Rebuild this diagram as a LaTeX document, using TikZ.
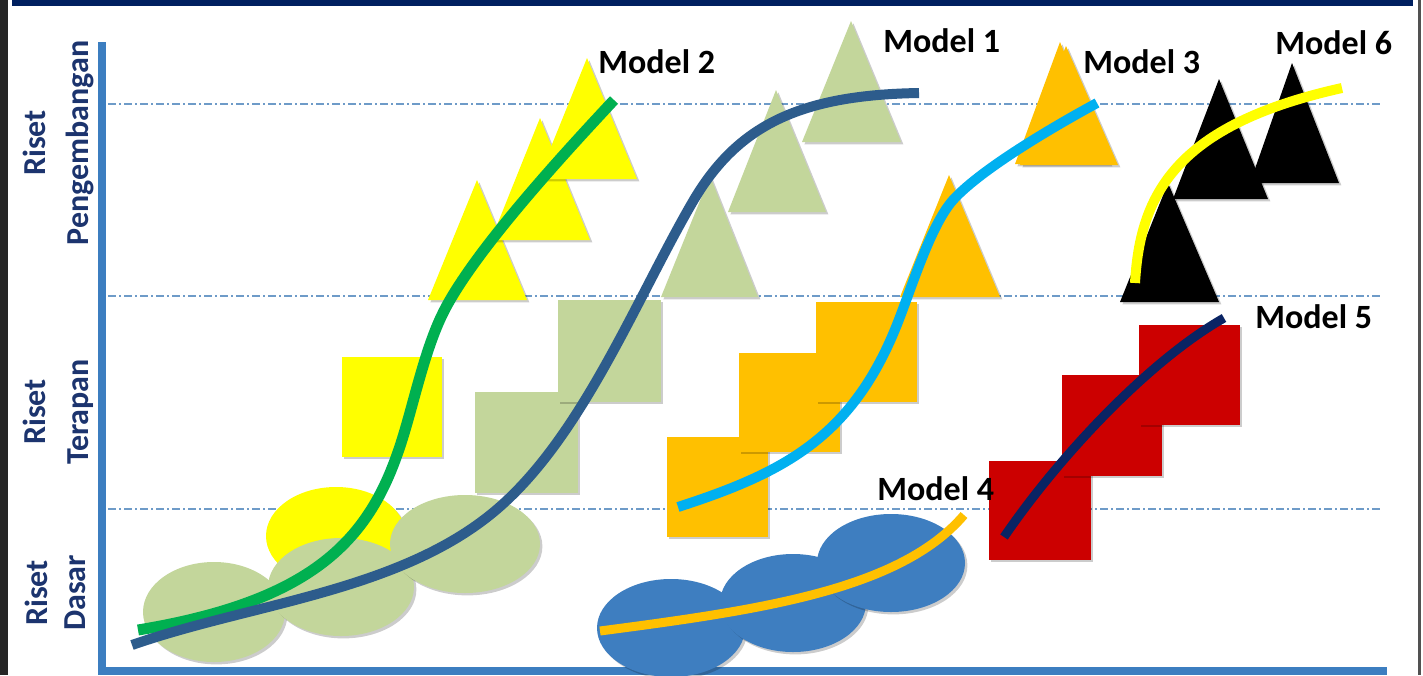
\documentclass[tikz,border=0pt]{standalone}
\usepackage{fontspec}
\setmainfont{Carlito}
\usetikzlibrary{shadows}

\definecolor{framegray}{RGB}{38,38,38}
\definecolor{topnavy}{RGB}{0,32,96}
\definecolor{axisblue}{RGB}{60,126,192}
\definecolor{guideblue}{RGB}{110,155,200}
\definecolor{labelnavy}{RGB}{28,52,110}
\definecolor{sagegreen}{RGB}{195,214,155}
\definecolor{brightyellow}{RGB}{255,255,0}
\definecolor{amber}{RGB}{255,192,0}
\definecolor{deepred}{RGB}{204,0,0}
\definecolor{steelblue}{RGB}{62,126,192}
\definecolor{curveblue}{RGB}{45,92,140}
\definecolor{curvegreen}{RGB}{0,176,80}
\definecolor{curvecyan}{RGB}{0,176,240}
\definecolor{curvenavy}{RGB}{10,36,100}

\newcommand{\modelfont}{\fontsize{17}{20}\selectfont\bfseries}
\newcommand{\levelfont}{\fontsize{16}{19}\selectfont\bfseries}

\begin{document}
\begin{tikzpicture}[
    x=0.5pt, y=-0.5pt,
    shapeshadow/.style={drop shadow={shadow xshift=1.2pt, shadow yshift=-1.2pt, opacity=0.2, fill=black}},
    greenshape/.style={fill=sagegreen, shapeshadow},
    yellowshape/.style={fill=brightyellow, shapeshadow},
    ambershape/.style={fill=amber, shapeshadow},
    redshape/.style={fill=deepred, shapeshadow},
    blackshape/.style={fill=black, shapeshadow},
    blueshape/.style={fill=steelblue, shapeshadow},
    trend/.style={line width=5pt},
    levelline/.style={draw=guideblue, line width=0.6pt, dash pattern=on 4pt off 1.5pt on 1pt off 1.5pt},
    modellabel/.style={font=\modelfont, inner sep=0pt, anchor=base west},
    levellabel/.style={font=\levelfont, text=labelnavy, rotate=90, inner sep=0pt, anchor=base},
]
\useasboundingbox (0,0) rectangle (1423,675);
\fill[white] (0,0) rectangle (1423,675);

% frame
\fill[framegray] (0,0) rectangle (8,675);
\fill[framegray!80] (1418,0) rectangle (1421,675);
\fill[topnavy] (12,0) rectangle (1413,6);

% guide lines
\draw[levelline] (108,104) -- (1383,104);
\draw[levelline] (108,296) -- (1383,296);
\draw[levelline] (108,509) -- (1383,509);

% axes
\fill[axisblue] (98,42) rectangle (106,675);
\fill[axisblue] (98,667) rectangle (1387,675);

% Model 2 shapes
\fill[yellowshape] (336,536) ellipse [x radius=70, y radius=49];
\fill[yellowshape] (342,357) rectangle (442,457);
\fill[yellowshape] (428,300) -- (477,180) -- (527,300) -- cycle;
\fill[yellowshape] (491,240) -- (540,118) -- (590,240) -- cycle;
\fill[yellowshape] (538,179) -- (587,58) -- (637,179) -- cycle;

% Model 1 shapes
\fill[greenshape] (214,612) ellipse [x radius=71, y radius=50];
\fill[greenshape] (341,587) ellipse [x radius=73, y radius=49];
\fill[greenshape] (465,544) ellipse [x radius=75, y radius=49];
\fill[greenshape] (475,392) rectangle (578,493);
\fill[greenshape] (558,300) rectangle (661,402);
\fill[greenshape] (661,297) -- (710,176) -- (758,297) -- cycle;
\fill[greenshape] (728,212) -- (776,90) -- (826,212) -- cycle;
\fill[greenshape] (802,142) -- (851,21) -- (901,142) -- cycle;

% Model 3 shapes
\fill[ambershape] (667,437) rectangle (768,537);
\fill[ambershape] (739,353) rectangle (840,452);
\fill[ambershape] (816,302) rectangle (917,402);
\fill[ambershape] (900,297) -- (949,175) -- (1000,297) -- cycle;
\fill[ambershape] (1015,164) -- (1060,42) -- (1110,164) -- cycle;
\fill[ambershape] (1020,165) -- (1066,46) -- (1118,165) -- cycle;

% Model 4 shapes
\fill[blueshape] (671,628) ellipse [x radius=74, y radius=49];
\fill[blueshape] (793,603) ellipse [x radius=73, y radius=49];
\fill[blueshape] (891,563) ellipse [x radius=74, y radius=49];

% Model 5 shapes
\fill[redshape] (989,461) rectangle (1091,560);
\fill[redshape] (1062,375) rectangle (1162,476);
\fill[redshape] (1139,325) rectangle (1240,425);

% Model 6 shapes
\fill[blackshape] (1120,302) -- (1168,183) -- (1219,302) -- cycle;
\fill[blackshape] (1173,199) -- (1219,79) -- (1268,199) -- cycle;
\fill[blackshape] (1250,183) -- (1292,63) -- (1339,183) -- cycle;

% trend curves
\draw[trend, curvegreen, line width=5.5pt] (138,630) .. controls (320,600) and (372,535) .. (402,440)
    .. controls (414,402) and (425,349) .. (443,313)
    .. controls (474,250) and (573,144) .. (614,100);
\draw[trend, curveblue] (132,645) .. controls (255,602) and (408,591) .. (504,503)
    .. controls (585,429) and (637,298) .. (692,203)
    .. controls (737,125) and (800,95) .. (919,93);
\draw[trend, curvecyan] (678,507) .. controls (783,473) and (851,438) .. (896,327)
    .. controls (911,290) and (930,226) .. (953,200)
    .. controls (983,167) and (1062,122) .. (1097,103);
\draw[trend, amber, line width=4.5pt] (600,631) .. controls (760,610) and (900,590) .. (964,515);
\draw[trend, curvenavy, line width=4.5pt] (1004,537) .. controls (1060,455) and (1150,360) .. (1224,318);
\draw[trend, brightyellow] (1135,283) .. controls (1140,195) and (1175,125) .. (1342,88);

% model labels
\node[modellabel] (lblone)   at (883,52)  {Model 1};
\node[modellabel] (lbltwo)   at (598,73)  {Model 2};
\node[modellabel] (lblthree) at (1083,73) {Model 3};
\node[modellabel] (lblfour)  at (877,500) {Model 4};
\node[modellabel] (lblfive)  at (1255,328) {Model 5};
\node[modellabel] (lblsix)   at (1275,54) {Model 6};

% level labels
\node[levellabel] (rdev)   at (45,143) {Riset};
\node[levellabel] (dev)    at (88,143) {Pengembangan};
\node[levellabel] (rapp)   at (45,412) {Riset};
\node[levellabel] (app)    at (88,412) {Terapan};
\node[levellabel] (rbasic) at (47,593) {Riset};
\node[levellabel] (basic)  at (85,593) {Dasar};
\end{tikzpicture}
\end{document}
